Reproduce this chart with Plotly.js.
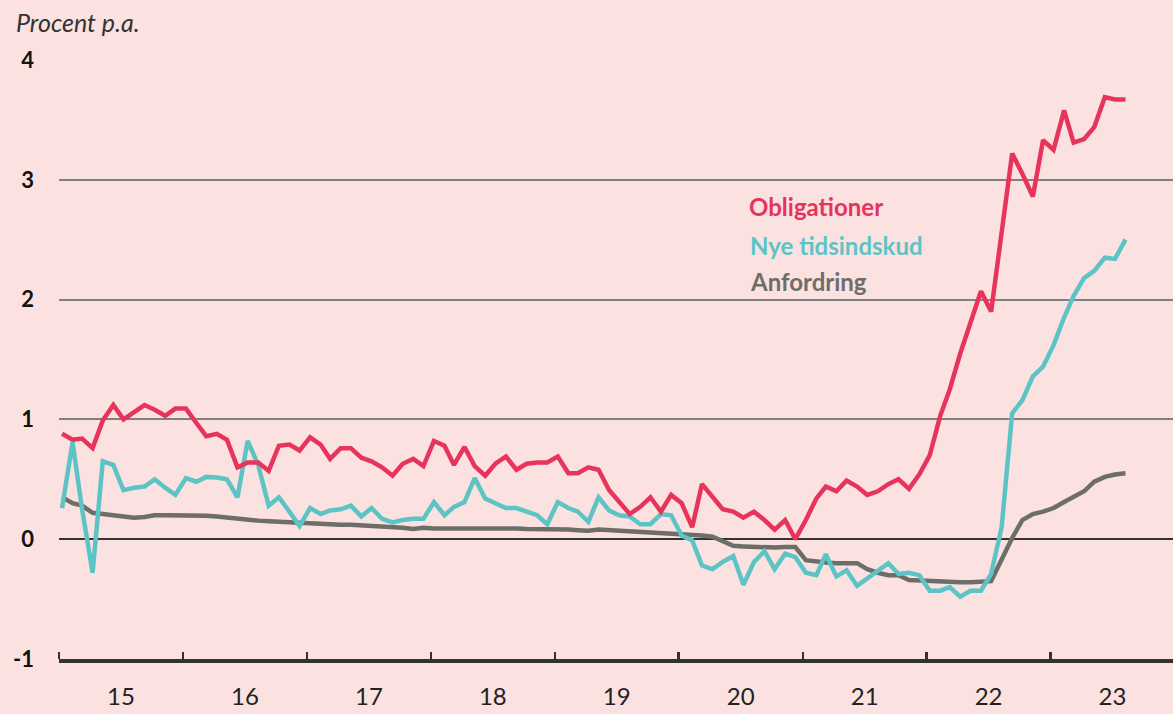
<!DOCTYPE html>
<html>
<head>
<meta charset="utf-8">
<script src="https://cdn.plot.ly/plotly-3.0.1.min.js"></script>
<style>
  html, body { margin: 0; padding: 0; background: #FCE1E1; }
  #chart { width: 1173px; height: 714px; }
</style>
</head>
<body>
<div id="chart"></div>
<script>
// Monthly series, Jan 2015 – Aug 2023 (percent p.a.)
const startYear = 2015;
const startMonth = 1;

const obligationer = [
  0.88, 0.83, 0.84, 0.76, 0.99, 1.12, 1.00, 1.06, 1.12, 1.08, 1.03, 1.09,
  1.09, 0.97, 0.86, 0.88, 0.83, 0.60, 0.64, 0.64, 0.57, 0.78, 0.79, 0.74,
  0.85, 0.79, 0.67, 0.76, 0.76, 0.68, 0.65, 0.60, 0.53, 0.63, 0.67, 0.61,
  0.82, 0.78, 0.62, 0.77, 0.61, 0.53, 0.63, 0.69, 0.58, 0.63, 0.64, 0.64,
  0.69, 0.55, 0.55, 0.60, 0.58, 0.41, 0.31, 0.21, 0.27, 0.35, 0.23, 0.37,
  0.30, 0.10, 0.46, 0.35, 0.25, 0.23, 0.18, 0.23, 0.16, 0.08, 0.16, 0.00,
  0.16, 0.34, 0.44, 0.40, 0.49, 0.44, 0.37, 0.40, 0.46, 0.50, 0.42, 0.54,
  0.70, 1.03, 1.25, 1.55, 1.82, 2.07, 1.90, 2.56, 3.22, 3.05, 2.86, 3.33,
  3.25, 3.58, 3.31, 3.34, 3.44, 3.69, 3.67, 3.67
];

const nyeTidsindskud = [
  0.26, 0.81, 0.25, -0.28, 0.65, 0.62, 0.41, 0.43, 0.44, 0.50, 0.43, 0.37,
  0.51, 0.48, 0.52, 0.515, 0.50, 0.35, 0.82, 0.62, 0.28, 0.35, 0.23, 0.11,
  0.26, 0.21, 0.24, 0.25, 0.28, 0.19, 0.26, 0.17, 0.14, 0.16, 0.17, 0.17,
  0.31, 0.20, 0.27, 0.31, 0.51, 0.34, 0.30, 0.26, 0.26, 0.23, 0.20, 0.125,
  0.31, 0.26, 0.23, 0.145, 0.35, 0.24, 0.20, 0.19, 0.125, 0.125, 0.21, 0.20,
  0.03, -0.01, -0.22, -0.25, -0.19, -0.14, -0.38, -0.19, -0.10, -0.25, -0.12, -0.15,
  -0.28, -0.30, -0.125, -0.31, -0.26, -0.39, -0.33, -0.26, -0.20, -0.29, -0.28, -0.30,
  -0.43, -0.43, -0.40, -0.48, -0.43, -0.43, -0.29, 0.10, 1.05, 1.16, 1.36, 1.44,
  1.62, 1.85, 2.03, 2.18, 2.24, 2.35, 2.34, 2.50
];

const anfordring = [
  0.35, 0.30, 0.28, 0.22, 0.21, 0.20, 0.19, 0.18, 0.185, 0.20, 0.20, 0.20,
  0.20, 0.20, 0.195, 0.19, 0.18, 0.175, 0.16, 0.155, 0.15, 0.145, 0.14, 0.135,
  0.13, 0.125, 0.125, 0.12, 0.12, 0.115, 0.115, 0.11, 0.10, 0.095, 0.085, 0.095,
  0.09, 0.09, 0.09, 0.095, 0.09, 0.09, 0.09, 0.09, 0.09, 0.085, 0.085, 0.085,
  0.085, 0.08, 0.075, 0.07, 0.08, 0.075, 0.075, 0.07, 0.065, 0.06, 0.05, 0.045,
  0.04, 0.035, 0.03, 0.02, -0.02, -0.055, -0.06, -0.065, -0.065, -0.07, -0.065, -0.065,
  -0.175, -0.19, -0.195, -0.20, -0.20, -0.20, -0.25, -0.28, -0.30, -0.30, -0.34, -0.345,
  -0.35, -0.355, -0.36, -0.36, -0.36, -0.355, -0.35, -0.17, 0.01, 0.16, 0.21, 0.23,
  0.26, 0.31, 0.35, 0.40, 0.48, 0.52, 0.54, 0.55
];

const seriesNames = ["Obligationer", "Nye tidsindskud", "Anfordring"];
const yTickVals = [-1, 0, 1, 2, 3, 4];
const yTickText = ["-1", "0", "1", "2", "3", "4"];
const yUnitLabel = "Procent p.a.";

function monthDates(n) {
  const out = [];
  for (let i = 0; i < n; i++) {
    const y = startYear + Math.floor((startMonth - 1 + i) / 12);
    const m = ((startMonth - 1 + i) % 12) + 1;
    out.push(y + "-" + String(m).padStart(2, "0") + "-10");
  }
  return out;
}
const dates = monthDates(obligationer.length);

const RED = "#E6345B";
const TEAL = "#5DC4C5";
const GREY = "#6D6D6A";
const BG = "#FCE1E1";
const FONT = "Lato, 'Open Sans', sans-serif";

const traces = [
  { x: dates, y: anfordring, name: seriesNames[2], type: "scatter", mode: "lines",
    line: { color: GREY, width: 4.5 } },
  { x: dates, y: nyeTidsindskud, name: seriesNames[1], type: "scatter", mode: "lines",
    line: { color: TEAL, width: 4.5 } },
  { x: dates, y: obligationer, name: seriesNames[0], type: "scatter", mode: "lines",
    line: { color: RED, width: 4.5 } }
];

const layout = {
  width: 1173, height: 714,
  margin: { l: 59, r: 0, t: 60, b: 55 },
  paper_bgcolor: BG, plot_bgcolor: BG,
  showlegend: false,
  font: { family: FONT, color: "#222" },
  xaxis: {
    type: "date",
    range: ["2015-01-01", "2023-12-28"],
    tick0: "2015-01-01", dtick: "M12",
    tickformat: "%y",
    ticklabelmode: "period",
    ticks: "inside", ticklen: 7, tickwidth: 2.5, tickcolor: "#333",
    showline: true, linecolor: "#333", linewidth: 3.5,
    showgrid: false, zeroline: false,
    tickfont: { family: FONT, size: 24, color: "#222" },
    ticklabelstandoff: 14,
    fixedrange: true
  },
  yaxis: {
    range: [-1, 4],
    tickvals: yTickVals, ticktext: yTickText,
    showgrid: true, gridcolor: "#808080", gridwidth: 2,
    zeroline: true, zerolinecolor: "#333333", zerolinewidth: 2.5,
    showline: false, ticks: "",
    tickfont: { family: FONT, size: 22, color: "#111", weight: "bold" },
    ticklabelstandoff: 24,
    fixedrange: true
  },
  annotations: [
    { text: yUnitLabel, xref: "paper", yref: "paper", x: -0.0405, y: 1.0634,
      xanchor: "left", yanchor: "middle", showarrow: false,
      font: { family: FONT, size: 25, color: "#333", style: "italic" } },
    { text: seriesNames[0], xref: "paper", yref: "paper", x: 0.6175, y: 0.7546,
      xanchor: "left", yanchor: "middle", showarrow: false,
      font: { family: FONT, size: 24, color: RED, weight: "bold" } },
    { text: seriesNames[1], xref: "paper", yref: "paper", x: 0.6185, y: 0.691,
      xanchor: "left", yanchor: "middle", showarrow: false,
      font: { family: FONT, size: 24, color: TEAL, weight: "bold" } },
    { text: seriesNames[2], xref: "paper", yref: "paper", x: 0.6185, y: 0.631,
      xanchor: "left", yanchor: "middle", showarrow: false,
      font: { family: FONT, size: 24, color: GREY, weight: "bold" } }
  ]
};

Plotly.newPlot("chart", traces, layout, { staticPlot: true, displayModeBar: false });
</script>
</body>
</html>
